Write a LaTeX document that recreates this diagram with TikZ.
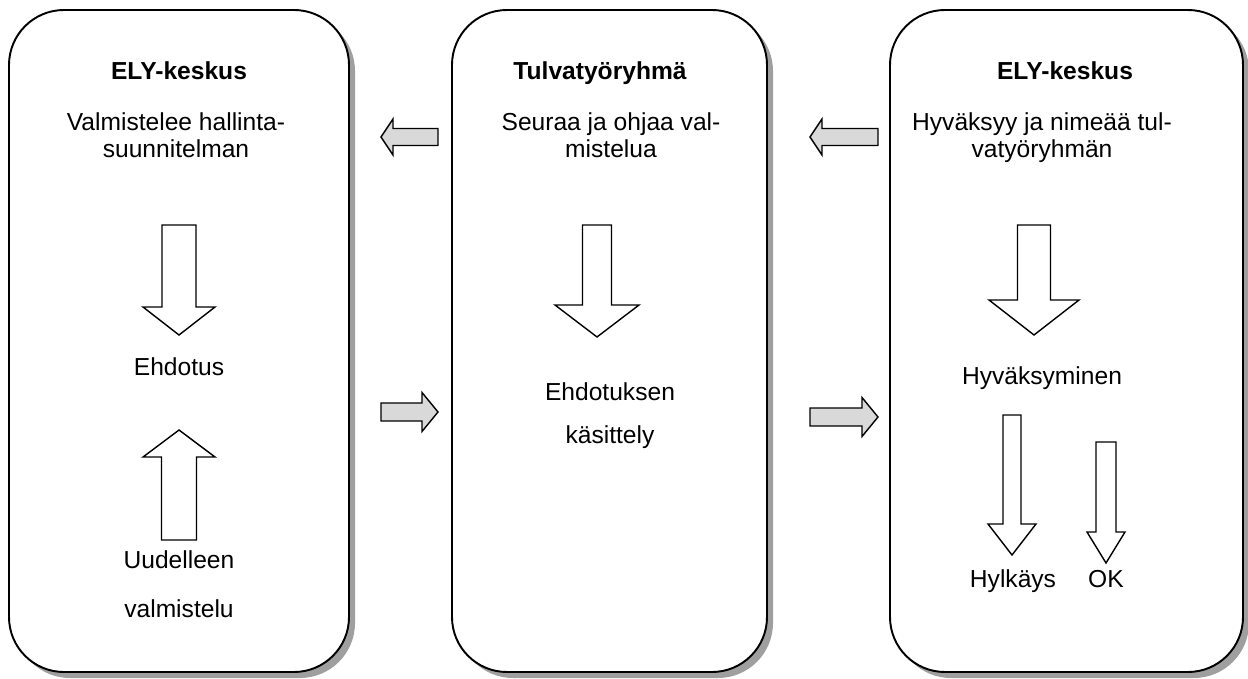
\documentclass[tikz,border=0pt]{standalone}
\usepackage{fontspec}
\setmainfont{Liberation Sans}
% vertical block arrow: x, start, tip, head base, body half width, head half width
\newcommand{\varr}[6]{\draw[bigarrow] (#1-#5,#2)--(#1+#5,#2)--(#1+#5,#4)--(#1+#6,#4)--(#1,#3)--(#1-#6,#4)--(#1-#5,#4)--cycle;}
% horizontal block arrow: y, start, tip, head base, body half width, head half width
\newcommand{\harr}[6]{\draw[sidearrow] (#2,#1-#5)--(#2,#1+#5)--(#4,#1+#5)--(#4,#1+#6)--(#3,#1)--(#4,#1-#6)--(#4,#1-#5)--cycle;}
\begin{document}
\begin{tikzpicture}[x=0.02cm,y=-0.02cm,
  panel/.style={draw,line width=1.1pt,fill=white,rounded corners=1.1cm},
  shade/.style={fill=gray!75,rounded corners=1.1cm},
  bigarrow/.style={draw,line width=0.8pt,fill=white,line join=miter},
  sidearrow/.style={draw,line width=0.8pt,fill=gray!30,line join=miter},
  head/.style={font=\fontsize{14}{15}\selectfont\bfseries,anchor=base},
  txt/.style={font=\fontsize{14}{14.8}\selectfont,anchor=base,align=center}]
\useasboundingbox (0,0) rectangle (1248,679);
% panels
\fill[shade] (15,16) rectangle (355,678);
\draw[panel] (9,10) rectangle (349,672);
\fill[shade] (458,16) rectangle (773,678);
\draw[panel] (452,10) rectangle (767,672);
\fill[shade] (896,16) rectangle (1249,678);
\draw[panel] (890,10) rectangle (1243,672);
% left panel
\node[head] (ely1) at (179,80) {ELY-keskus};
\node[txt] (valm) at (176,157) {Valmistelee hallinta-\\suunnitelman};
\varr{179}{225}{335}{307}{17}{36}
\node[txt] (ehd) at (179,375) {Ehdotus};
\varr{179}{540}{430}{457}{17.5}{36}
\node[txt] (uud) at (179,568) {Uudelleen};
\node[txt] (uudv) at (179,617) {valmistelu};
% middle panel
\node[head] (tulva) at (600,80) {Tulvatyöryhmä};
\node[txt] (seur) at (611,157) {Seuraa ja ohjaa val-\\mistelua};
\varr{597}{225}{337}{305}{14.5}{42}
\node[txt] (kas) at (610,400) {Ehdotuksen};
\node[txt] (kasv) at (610,443) {käsittely};
% right panel
\node[head] (ely2) at (1065,80) {ELY-keskus};
\node[txt] (hyv) at (1042,157) {Hyväksyy ja nimeää tul-\\vatyöryhmän};
\varr{1034}{225}{335}{300}{16.5}{45}
\node[txt] (hyvm) at (1042,384) {Hyväksyminen};
\varr{1012}{415}{555}{524}{9}{24}
\varr{1106}{442}{563}{532}{10}{19}
\node[txt] (hylk) at (1013,587) {Hylkäys};
\node[txt] (ok) at (1106,587) {OK};
% arrows between panels
\harr{137}{438}{381}{393}{8.5}{18}
\harr{137}{878}{810}{822}{8.5}{18}
\harr{412}{381}{438}{422}{9}{19.5}
\harr{417}{810}{878}{862}{9}{19.5}
\end{tikzpicture}
\end{document}
